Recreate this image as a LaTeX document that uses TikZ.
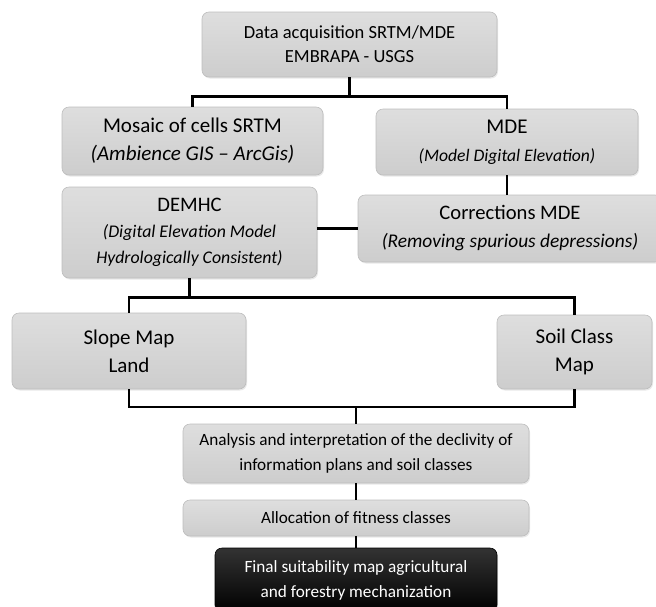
\documentclass[tikz,border=0pt]{standalone}
\usepackage{fontspec}
\setmainfont{Carlito}
\usetikzlibrary{shadows}
\definecolor{boxtop}{HTML}{DEDEDE}
\definecolor{boxbot}{HTML}{CDCDCD}
\definecolor{boxline}{HTML}{BDBDBD}
\begin{document}
\begin{tikzpicture}[x=1pt,y=-1pt,
  box/.style={draw=boxline, line width=0.6pt, top color=boxtop, bottom color=boxbot, rounded corners=7pt, align=center, inner sep=0pt,
    drop shadow={opacity=0.18, shadow xshift=1pt, shadow yshift=-1.5pt}},
  big/.style={font=\fontsize{21}{28}\selectfont},
  mid/.style={font=\fontsize{18.5}{24}\selectfont},
  small/.style={font=\fontsize{17.2}{25}\selectfont},
  conn/.style={line width=2.4pt}]
\useasboundingbox (0,0) rectangle (656,606);
\clip (0,0) rectangle (656,606);
\node[box, mid, minimum width=295pt, minimum height=65pt] (top) at (349.5,44.5)
  {Data acquisition SRTM/MDE\\EMBRAPA - USGS};
\node[box, big, minimum width=261pt, minimum height=68pt] (mosaic) at (192.5,141)
  {Mosaic of cells SRTM\\\fontsize{21}{28}\selectfont\itshape (Ambience GIS – ArcGis)};
\node[box, big, minimum width=262pt, minimum height=66pt] (mde) at (507,142)
  {MDE\\\fontsize{17.6}{28}\selectfont\itshape (Model Digital Elevation)};
\node[box, big, minimum width=304pt, minimum height=67pt] (corr) at (510,228.5)
  {\fontsize{20.6}{28}\selectfont Corrections MDE\\\fontsize{19.4}{28}\selectfont\itshape (Removing spurious depressions)};
\node[box, font=\fontsize{20.6}{26}\selectfont, minimum width=255pt, minimum height=91pt] (demhc) at (189.5,232.5)
  {DEMHC\\\fontsize{17.8}{25}\selectfont\itshape (Digital Elevation Model\\\fontsize{17.8}{25}\selectfont\itshape Hydrologically Consistent)};
\node[box, big, minimum width=234pt, minimum height=76pt] (slope) at (129,351)
  {Slope Map\\Land};
\node[box, big, minimum width=155pt, minimum height=74pt] (soil) at (574.5,352)
  {Soil Class\\Map};
\node[box, small, minimum width=346pt, minimum height=59pt] (analysis) at (356,453.5)
  {Analysis and interpretation of the declivity of\\information plans and soil classes};
\node[box, small, minimum width=346pt, minimum height=36pt] (alloc) at (356,518)
  {Allocation of fitness classes};
\node[box, small, draw=black, top color=black!80, bottom color=black, text=white, minimum width=282pt, minimum height=64pt] (final) at (356,580)
  {Final suitability map agricultural\\and forestry mechanization};
% connectors
\draw[conn] (top.south) -- ++(0,19) coordinate (j1);
\draw[conn] (mosaic.north) |- (j1) -| (mde.north);
\draw[conn] (mde.south) -- (mde.south |- corr.north);
\draw[conn] (demhc.east |- corr.west) -- (corr.west);
\draw[conn] (demhc.south) -- ++(0,19) coordinate (j2);
\draw[conn] (slope.north) |- (j2) -| (soil.north);
\coordinate (j3) at (356,407);
\draw[conn] (slope.south) |- (j3) -| (soil.south);
\draw[conn] (j3) -- (analysis.north);
\draw[conn] (analysis.south) -- (alloc.north);
\draw[conn] (alloc.south) -- (final.north);
\end{tikzpicture}
\end{document}
